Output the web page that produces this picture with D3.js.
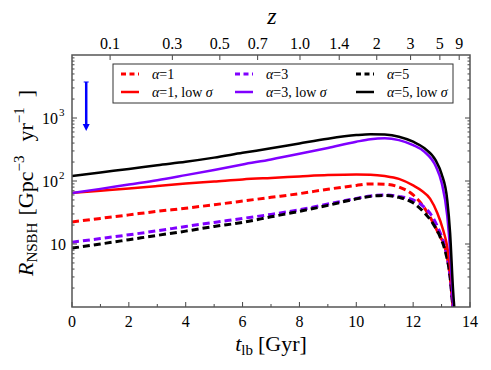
<!DOCTYPE html>
<html>
<head>
<meta charset="utf-8">
<script src="https://cdn.jsdelivr.net/npm/d3@7"></script>
<style>
  body { margin: 0; background: #fff; }
  text { font-family: "Liberation Serif", "DejaVu Serif", serif; fill: #000; }
</style>
</head>
<body>
<script>
// lookback time [Gyr]
const tA = [0, 1, 2, 3, 4, 5, 6, 7, 8, 9, 10, 10.5, 11, 11.5, 12, 12.4, 12.8, 13.0, 13.2, 13.3, 13.4, 13.5];
const blackSolid = [120, 137, 155, 178, 202, 235, 280, 330, 395, 470, 535, 552, 545, 505, 420, 330, 210, 130, 50, 15, 2, 0.5];
const purpleSolid = [64.5, 75, 88, 103, 124, 150, 183, 220, 270, 335, 420, 460, 475, 445, 370, 290, 170, 95, 28, 8, 1.2, 0.5];

const tB = [0, 1, 2, 3, 4, 5, 6, 7, 8, 9, 10, 10.5, 11, 11.5, 12, 12.3, 12.6, 12.85, 13.05, 13.2, 13.35, 13.45];
const redSolid = [64.5, 70, 76, 83, 91, 98, 106, 112, 118, 124, 127, 126, 120, 108, 85, 70, 52, 31, 17, 9, 2.5, 0.5];

const tC = [0, 1, 2, 3, 4, 5, 6, 7, 8, 9, 10, 10.5, 11, 11.5, 12, 12.35, 12.7, 12.95, 13.12, 13.3, 13.4, 13.5];
const redDashed = [22.4, 25.5, 29, 33, 37, 42, 48, 55, 63, 74, 85, 90, 89, 80, 60, 40, 22, 13, 9, 3, 1, 0.4];
const purpleDashed = [10.7, 12.2, 14, 16.2, 19, 22, 25.5, 29.5, 35, 43, 53, 58, 60, 57, 50, 40, 26, 15, 9, 3, 1, 0.4];
const blackDashed = [8.6, 10, 11.7, 13.7, 16, 19, 22, 27, 33, 41, 52, 57, 59, 55, 45, 33, 21, 13, 8, 3, 1, 0.4];

// top axis: redshift ticks and where they sit in lookback time
const zLabels = ["0.1", "0.3", "0.5", "0.7", "1.0", "1.4", "2", "3", "5", "9"];
const zAtT = [1.34, 3.53, 5.2, 6.53, 8.02, 9.4, 10.72, 11.91, 12.94, 13.62];

const xTicks = [0, 2, 4, 6, 8, 10, 12, 14];
const yTicks = [10, 100, 1000];
const yTickExp = ["", "2", "3"];

const series = [
  { t: tC, v: redDashed, color: "#ff0000", dash: true, label: "=1", low: false },
  { t: tC, v: purpleDashed, color: "#8000ff", dash: true, label: "=3", low: false },
  { t: tC, v: blackDashed, color: "#000000", dash: true, label: "=5", low: false },
  { t: tB, v: redSolid, color: "#ff0000", dash: false, label: "=1, low ", low: true },
  { t: tA, v: purpleSolid, color: "#8000ff", dash: false, label: "=3, low ", low: true },
  { t: tA, v: blackSolid, color: "#000000", dash: false, label: "=5, low ", low: true }
];

const width = 491, height = 370;
const pL = 72, pR = 470, pT = 55, pB = 307;

const svg = d3.select("body").append("svg")
  .attr("width", width)
  .attr("height", height);

const x = d3.scaleLinear().domain([0, 14]).range([pL, pR]);
const y = d3.scaleLog().domain([1, 10000]).range([pB, pT]);

svg.append("clipPath").attr("id", "clip")
  .append("rect").attr("x", pL).attr("y", pT).attr("width", pR - pL).attr("height", pB - pT);

// curves
const line = d3.line()
  .x(d => x(d[0]))
  .y(d => y(Math.max(d[1], 0.3)))
  .curve(d3.curveMonotoneX);

const plot = svg.append("g").attr("clip-path", "url(#clip)");
series.forEach(s => {
  plot.append("path")
    .datum(s.t.map((t, i) => [t, s.v[i]]))
    .attr("fill", "none")
    .attr("stroke", s.color)
    .attr("stroke-width", s.dash ? 3 : 2.5)
    .attr("stroke-dasharray", s.dash ? "7,4" : null)
    .attr("d", line);
});

// blue arrow
svg.append("line").attr("x1", x(0.5)).attr("x2", x(0.5)).attr("y1", 82).attr("y2", 126)
  .attr("stroke", "#0000ff").attr("stroke-width", 2.5);
svg.append("line").attr("x1", x(0.5) - 2.5).attr("x2", x(0.5) + 2.5).attr("y1", 82).attr("y2", 82)
  .attr("stroke", "#0000ff").attr("stroke-width", 1);
svg.append("path")
  .attr("d", `M${x(0.5) - 3.5},${124} L${x(0.5) + 3.5},${124} L${x(0.5)},${131} Z`)
  .attr("fill", "#0000ff");

// ticks
const tickCol = "#444";
const ticks = svg.append("g").attr("stroke", tickCol).attr("stroke-width", 1);
d3.range(0, 15, 1).forEach(v => {
  const len = v % 2 === 0 ? 5 : 3;
  ticks.append("line").attr("x1", x(v)).attr("x2", x(v)).attr("y1", pB).attr("y2", pB - len);
});
zAtT.forEach(t => {
  ticks.append("line").attr("x1", x(t)).attr("x2", x(t)).attr("y1", pT).attr("y2", pT + 5);
});
for (let e = 0; e < 4; e++) {
  for (let m = 1; m < 10; m++) {
    const v = m * Math.pow(10, e);
    if (v <= 1) continue;
    const len = m === 1 ? 5 : 2.5;
    ticks.append("line").attr("x1", pL).attr("x2", pL + len).attr("y1", y(v)).attr("y2", y(v));
    ticks.append("line").attr("x1", pR).attr("x2", pR - len).attr("y1", y(v)).attr("y2", y(v));
  }
}

// frame
svg.append("rect")
  .attr("x", pL).attr("y", pT).attr("width", pR - pL).attr("height", pB - pT)
  .attr("fill", "none").attr("stroke", "#555").attr("stroke-width", 1.5);

// tick labels
svg.append("g").selectAll("text").data(xTicks).join("text")
  .attr("x", d => x(d)).attr("y", 327)
  .attr("text-anchor", "middle").attr("font-size", 16)
  .text(d => d);

svg.append("g").selectAll("text").data(zLabels).join("text")
  .attr("x", (d, i) => x(zAtT[i])).attr("y", 49)
  .attr("text-anchor", "middle").attr("font-size", 16)
  .text(d => d);

svg.append("g").selectAll("text").data(yTicks).join("text")
  .attr("x", (d, i) => i === 0 ? 66 : 58).attr("y", d => y(d) + 6)
  .attr("text-anchor", "end").attr("font-size", 16)
  .text("10");
svg.append("g").selectAll("text").data(yTicks.slice(1)).join("text")
  .attr("x", 59).attr("y", d => y(d) - 2)
  .attr("font-size", 11)
  .text((d, i) => yTickExp[i + 1]);

// axis titles
const xt = svg.append("text").attr("x", 271).attr("y", 351).attr("text-anchor", "middle").attr("font-size", 22);
xt.append("tspan").attr("font-style", "italic").text("t");
xt.append("tspan").attr("font-size", 15).attr("dy", 4).text("lb");
xt.append("tspan").attr("dy", -4).attr("dx", 5).text("[Gyr]");

svg.append("text").attr("x", 272).attr("y", 24).attr("text-anchor", "middle")
  .attr("font-size", 24).attr("font-style", "italic").text("z");

const yt = svg.append("text")
  .attr("transform", "translate(33,183) rotate(-90)")
  .attr("text-anchor", "middle").attr("font-size", 22);
yt.append("tspan").attr("font-style", "italic").text("R");
yt.append("tspan").attr("font-size", 15).attr("dy", 4).text("NSBH");
yt.append("tspan").attr("dy", -4).attr("dx", 7).text("[Gpc");
yt.append("tspan").attr("font-size", 15).attr("dy", -9).text("−3");
yt.append("tspan").attr("dy", 9).attr("dx", 14).text("yr");
yt.append("tspan").attr("font-size", 15).attr("dy", -9).text("−1");
yt.append("tspan").attr("dy", 9).attr("dx", 10).text("]");

// legend
const lg = svg.append("g");
lg.append("rect").attr("x", 113).attr("y", 64).attr("width", 340).attr("height", 39)
  .attr("fill", "#fff").attr("stroke", "#333").attr("stroke-width", 1);
const colX = [121, 235, 356];
const rowY = [74, 92];
series.forEach((s, i) => {
  const cx = colX[i % 3], cy = rowY[s.low ? 1 : 0];
  lg.append("line").attr("x1", cx).attr("x2", cx + 18).attr("y1", cy).attr("y2", cy)
    .attr("stroke", s.color).attr("stroke-width", s.dash ? 3 : 2.5)
    .attr("stroke-dasharray", s.dash ? "5,3.5" : null);
  const tx = lg.append("text").attr("x", cx + 31).attr("y", cy + 4.5).attr("font-size", 14);
  tx.append("tspan").attr("font-style", "italic").text("α");
  tx.append("tspan").text(s.label);
  if (s.low) tx.append("tspan").attr("font-style", "italic").text("σ");
});
</script>
</body>
</html>
